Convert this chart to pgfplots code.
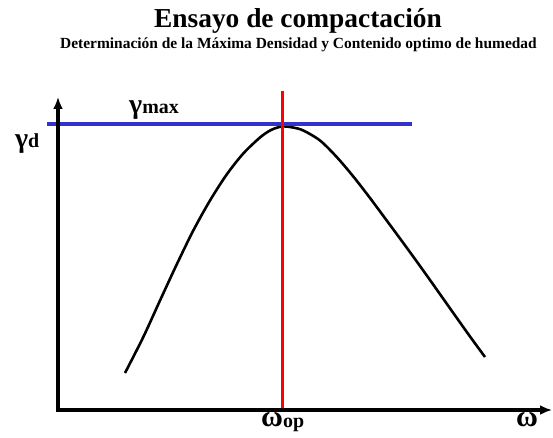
\documentclass[border=0pt]{standalone}
\usepackage{pgfplots}
\pgfplotsset{compat=1.18}
\usepackage{fontspec}
\setmainfont{Liberation Serif}
\usetikzlibrary{arrows.meta}
\definecolor{lineblue}{RGB}{51,51,204}
\begin{document}
\begin{tikzpicture}
\begin{axis}[scale only axis, width=553bp, height=438bp,
  xmin=0, xmax=553, ymin=0, ymax=438, y dir=reverse,
  axis lines=none, clip=false]
\coordinate (BBa) at (axis cs:0,438);
\coordinate (BBb) at (axis cs:553,0);
\addplot[black, line width=2.6pt, smooth] coordinates {
 (125,373) (143.3,337) (160,300.5) (176.7,264.5) (193.3,230.5)
 (210,200.5) (226.7,174.5) (243.3,153.5) (260,137.5) (271,130)
 (282,126.5) (293,127.5)
 (303.3,130.5) (320,140.5) (336.7,157) (353.3,176.5) (370,198)
 (386.7,220.5) (403.3,243) (420,266) (436.7,289.5) (453.3,313)
 (470,336.5) (485,357)};
\addplot[lineblue, line width=3.4pt] coordinates {(47,124) (412,124)};
\addplot[red, line width=3pt] coordinates {(282,91) (282,410)};
\addplot[black, line width=3.6pt, -{Latex[length=12pt,width=10pt]}] coordinates {(58,411.5) (58,97)};
\addplot[black, line width=3.6pt, -{Latex[length=12pt,width=10pt]}] coordinates {(56.2,410) (552,410)};
\node[font=\bfseries\fontsize{27.5}{28}\selectfont, anchor=base, inner sep=0pt] at (axis cs:298,28) {Ensayo de compactación};
\node[font=\bfseries\fontsize{15.5}{16}\selectfont, anchor=base, inner sep=0pt] at (axis cs:298.5,49) {Determinación de la Máxima Densidad y Contenido optimo de humedad};
\node[font=\bfseries, anchor=base west, inner sep=0pt] at (axis cs:129,114) {{\fontsize{28}{28}\selectfont γ}{\fontsize{20}{20}\selectfont max}};
\node[font=\bfseries, anchor=base west, inner sep=0pt] at (axis cs:15,148) {{\fontsize{28}{28}\selectfont γ}{\fontsize{20}{20}\selectfont d}};
\node[font=\bfseries, anchor=base west, inner sep=0pt] at (axis cs:261,426) {{\fontsize{30}{30}\selectfont ω}\raisebox{-2pt}{\fontsize{20}{20}\selectfont op}};
\node[font=\bfseries, anchor=base west, inner sep=0pt] at (axis cs:516,426) {{\fontsize{30}{30}\selectfont ω}};
\end{axis}
\pgfresetboundingbox
\path[use as bounding box] (BBa) rectangle (BBb);
\end{tikzpicture}
\end{document}
